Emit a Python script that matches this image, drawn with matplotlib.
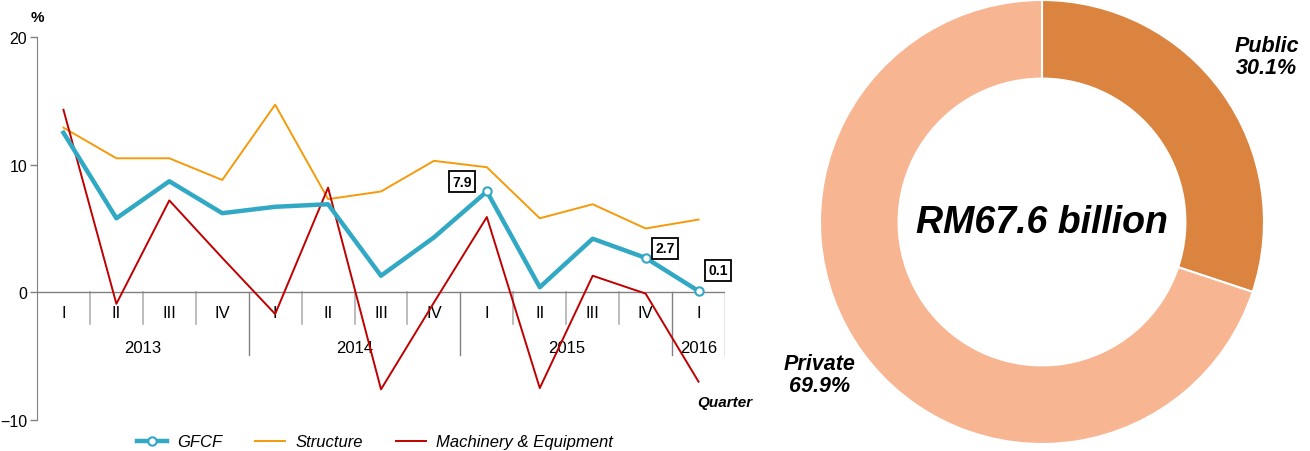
import matplotlib.pyplot as plt

quarters = ['I', 'II', 'III', 'IV', 'I', 'II', 'III', 'IV', 'I', 'II', 'III', 'IV', 'I']
years = ['2013', '2014', '2015', '2016']
year_quarters = [4, 4, 4, 1]

gfcf = [12.5, 5.8, 8.7, 6.2, 6.7, 6.9, 1.3, 4.3, 7.9, 0.4, 4.2, 2.7, 0.1]
structure = [12.9, 10.5, 10.5, 8.8, 14.7, 7.3, 7.9, 10.3, 9.8, 5.8, 6.9, 5.0, 5.7]
machinery = [14.3, -0.9, 7.2, 2.7, -1.7, 8.2, -7.6, -0.8, 5.9, -7.5, 1.3, -0.1, -7.0]
labelled = [8, 11, 12]
label_offsets = [(-18, 7), (14, 7), (14, 15)]  # points, box placement

shares = [30.1, 69.9]
share_names = ['Public', 'Private']
total = 'RM67.6 billion'

narrow = ['Liberation Sans Narrow', 'Liberation Sans', 'DejaVu Sans']
plt.rcParams['font.family'] = ['Liberation Sans', 'DejaVu Sans']

fig = plt.figure(figsize=(13.1, 4.52), dpi=100)

# ---- line chart
ax = fig.add_axes([37 / 1310, 31 / 452, 688 / 1310, 383 / 452])
x = list(range(len(quarters)))
ax.plot(x, structure, color='#F59A0A', lw=1.4, label='Structure', zorder=3)
ax.plot(x, machinery, color='#C00000', lw=1.4, label='Machinery & Equipment', zorder=4)
ax.plot(x, gfcf, color='#31A8C4', lw=3.2, marker='o', markevery=labelled, ms=6,
        mfc='white', mec='#31A8C4', mew=1.5, label='GFCF', zorder=5)

for i, off in zip(labelled, label_offsets):
    ax.annotate(f'{gfcf[i]:.1f}', (i, gfcf[i]), xytext=off, textcoords='offset points',
                ha='center', va='center', fontsize=10, fontweight='bold', family=narrow,
                bbox=dict(boxstyle='square,pad=0.25', fc='white', ec='black', lw=1.3), zorder=6)

ax.set_xlim(-0.5, len(quarters) - 0.5)
ax.set_ylim(-10, 20)
ax.set_yticks([-10, 0, 10, 20])
ax.set_xticks([])
for lab in ax.get_yticklabels():
    lab.set_family(narrow)
    lab.set_fontsize(11.5)
ax.tick_params(axis='y', length=5, color='#808080', width=1, pad=2)
for s in ['top', 'right', 'bottom']:
    ax.spines[s].set_visible(False)
ax.spines['left'].set_color('#808080')
ax.axhline(0, color='#808080', lw=1, zorder=2)

# quarter / year category axis
for i, q in enumerate(quarters):
    ax.text(i, -1.6, q, ha='center', va='center', fontsize=12, family=narrow, zorder=1)
start = -0.5
bounds = []
for y, n in zip(years, year_quarters):
    ax.text(start + n / 2, -4.3, y, ha='center', va='center', fontsize=12, family=narrow, zorder=1)
    start += n
    bounds.append(start)
for i in range(len(quarters)):
    b = i + 0.5
    if b in bounds:
        ax.plot([b, b], [0, -4.9], color='#808080', lw=1, zorder=1)
    else:
        ax.plot([b, b], [0, -2.5], color='#B0B0B0', lw=1.2, zorder=1)

ax.text(12.5, -8.6, 'Quarter', ha='center', va='center', fontsize=11,
        fontweight='bold', style='italic', family=narrow)
fig.text(37 / 1310, 1 - 18 / 452, '%', ha='center', va='center', fontsize=11, fontweight='bold')

h, l = ax.get_legend_handles_labels()
order = [2, 0, 1]
fig.legend([h[k] for k in order], [l[k] for k in order], loc='center', ncol=3,
           bbox_to_anchor=(375 / 1310, 9 / 452), frameon=False, handlelength=1.8,
           columnspacing=2.0, handletextpad=0.6, prop=dict(size=12, style='italic'))

# ---- donut
ax2 = fig.add_axes([820 / 1310, 7 / 452, 444 / 1310, 444 / 452])
ax2.pie(shares, colors=['#DB843F', '#F8B592'], startangle=90, counterclock=False,
        wedgeprops=dict(width=0.354, edgecolor='white', linewidth=1.5))
ax2.set_xlim(-1, 1)
ax2.set_ylim(-1, 1)
ax2.text(0, 0, total, ha='center', va='center', fontsize=27, fontweight='bold', style='italic')
ax2.text(1.013, 0.745, f'{share_names[0]}\n{shares[0]}%', ha='center', va='center',
         fontsize=15.5, fontweight='bold', style='italic', clip_on=False, linespacing=1.1)
ax2.text(-1.0, -0.687, f'{share_names[1]}\n{shares[1]}%', ha='center', va='center',
         fontsize=15.5, fontweight='bold', style='italic', clip_on=False, linespacing=1.1)

fig.savefig('out.png', dpi=100)
